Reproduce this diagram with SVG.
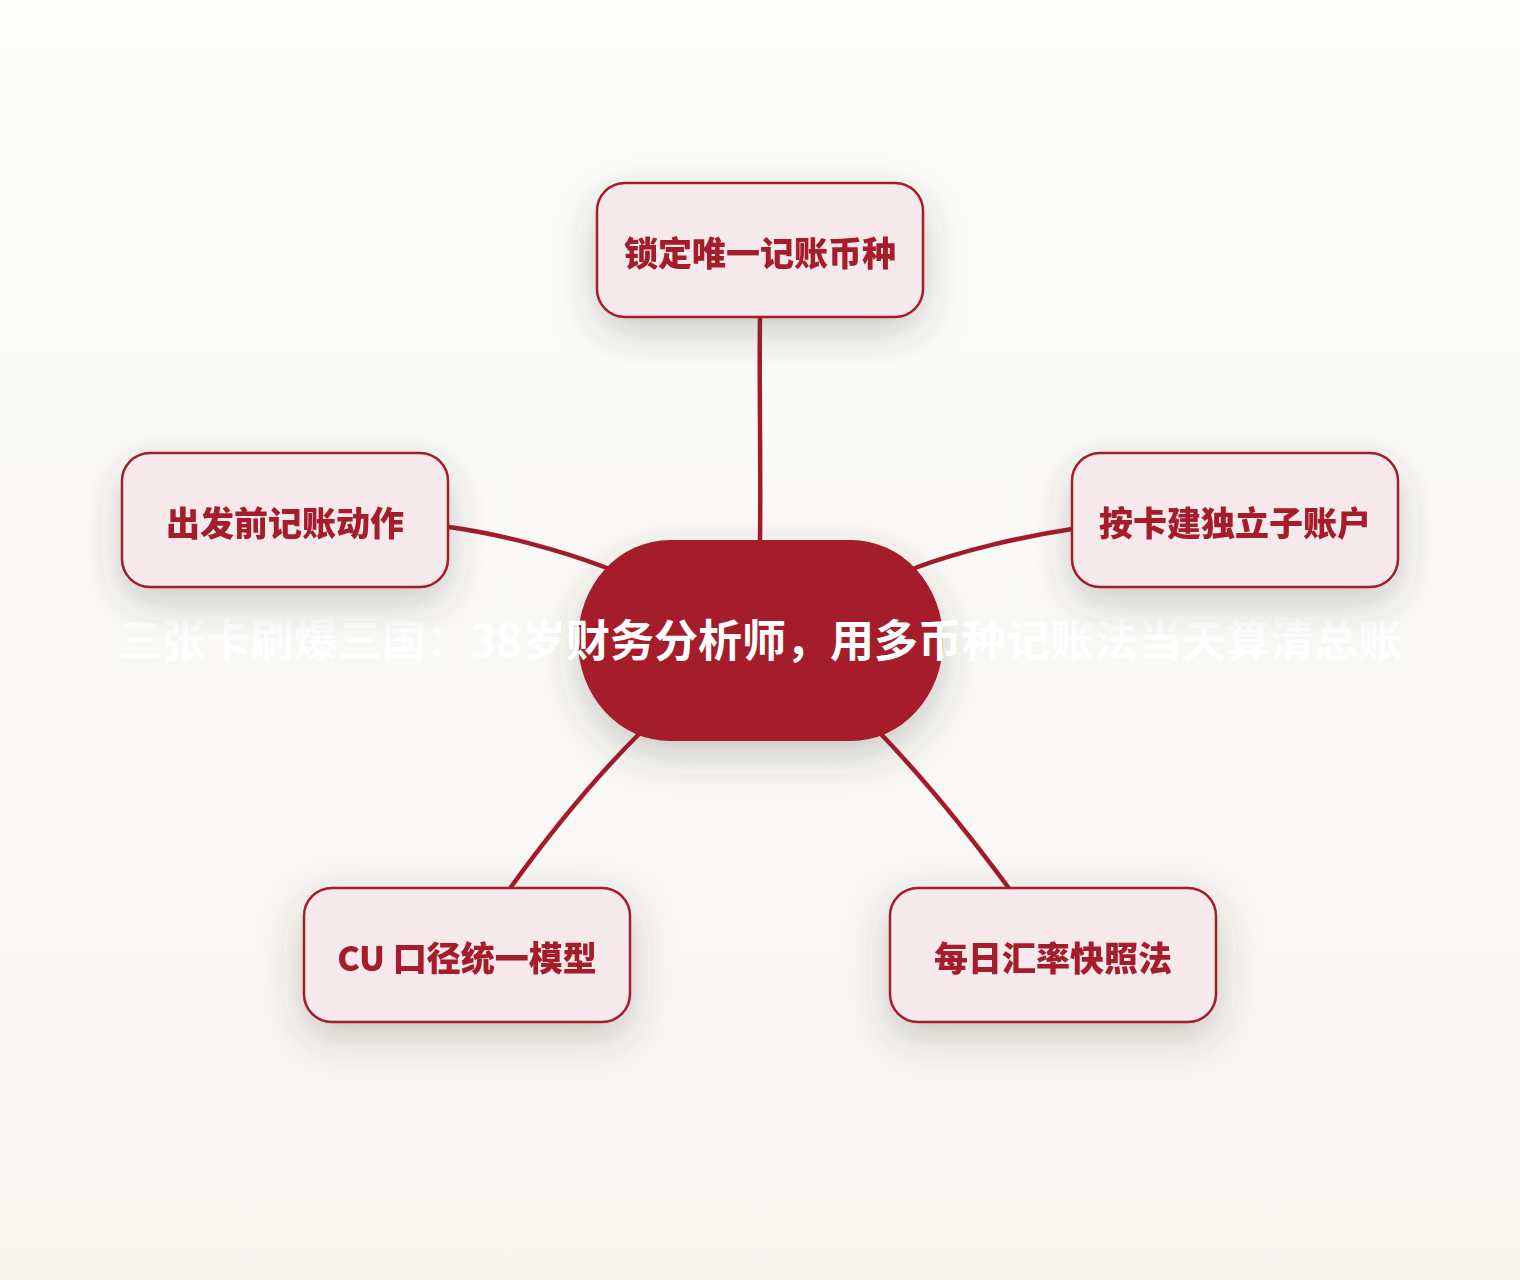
<svg xmlns="http://www.w3.org/2000/svg" width="1520" height="1280" viewBox="0 0 1520 1280">
  <defs>
    <linearGradient id="bg" x1="0" y1="0" x2="0" y2="1">
      <stop offset="0" stop-color="#FDFDFC"/>
      <stop offset="1" stop-color="#F7F5F0"/>
    </linearGradient>
    <filter id="shadow" x="-40%" y="-40%" width="180%" height="200%">
      <feDropShadow dx="0" dy="14" stdDeviation="20" flood-color="#3a3a36" flood-opacity="0.26"/>
    </filter>
    <style>
      .node rect { fill: #F5E9EC; stroke: #A51A2A; stroke-width: 2.5; }
      .node text { font-family: "Noto Sans CJK SC", "Liberation Sans", sans-serif; font-weight: 900; font-size: 34px; fill: #A51A2A; text-anchor: middle; }
      .conn path { fill: none; stroke: #A51A2A; stroke-width: 4.5; stroke-linecap: round; }
      .title { font-family: "Noto Sans CJK SC", "Liberation Sans", sans-serif; font-weight: 700; font-size: 44px; fill: #FFFFFF; text-anchor: middle; }
    </style>
  </defs>
  <rect x="0" y="0" width="1520" height="1280" fill="url(#bg)"/>

  <g id="connectors" class="conn">
    <path d="M760,318 C759,380 761,470 760,541"/>
    <path d="M449,527 C500,534 560,550 607,568"/>
    <path d="M1072,529 C1020,537 960,551 915,568"/>
    <path d="M640,733 C595,778 550,833 511,887"/>
    <path d="M880,733 C925,780 968,833 1008,887"/>
  </g>

  <g id="center" filter="url(#shadow)">
    <rect x="578" y="540" width="365" height="201" rx="92" ry="100" fill="#A51A2A"/>
  </g>
  <text class="title" x="760" y="657">三张卡刷爆三国：38岁财务分析师，用多币种记账法当天算清总账</text>

  <g id="node-top" class="node" filter="url(#shadow)">
    <rect x="597" y="183" width="326" height="134" rx="28"/>
    <text x="760" y="266">锁定唯一记账币种</text>
  </g>
  <g id="node-left" class="node" filter="url(#shadow)">
    <rect x="122" y="453" width="326" height="134" rx="28"/>
    <text x="285" y="536">出发前记账动作</text>
  </g>
  <g id="node-right" class="node" filter="url(#shadow)">
    <rect x="1072" y="453" width="326" height="134" rx="28"/>
    <text x="1235" y="536">按卡建独立子账户</text>
  </g>
  <g id="node-bottom-left" class="node" filter="url(#shadow)">
    <rect x="304" y="888" width="326" height="134" rx="28"/>
    <text x="467" y="971">CU 口径统一模型</text>
  </g>
  <g id="node-bottom-right" class="node" filter="url(#shadow)">
    <rect x="890" y="888" width="326" height="134" rx="28"/>
    <text x="1053" y="971">每日汇率快照法</text>
  </g>
</svg>
